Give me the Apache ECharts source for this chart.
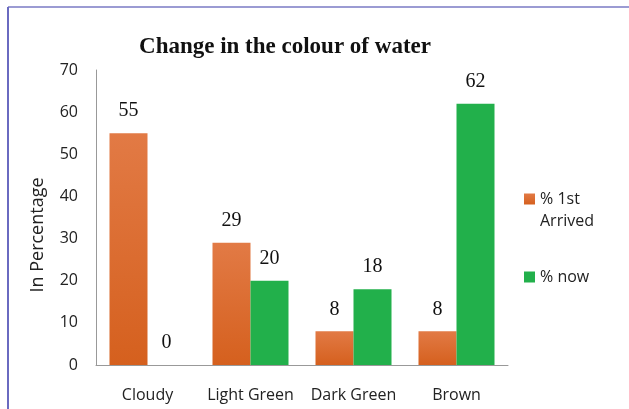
<!DOCTYPE html>
<html><head><meta charset="utf-8">
<script src="https://cdn.jsdelivr.net/npm/echarts@6/dist/echarts.min.js"></script>
<style>html,body{margin:0;padding:0;background:#fff}#c{width:629px;height:409px}</style>
</head><body><div id="c"></div>
<script>
const categories = ['Cloudy', 'Light Green', 'Dark Green', 'Brown'];
const firstArrived = [55, 29, 8, 8];
const now = [0, 20, 18, 62];
const seriesNames = ['% 1st\nArrived', '% now'];
const yTicks = [0, 10, 20, 30, 40, 50, 60, 70];

const chart = echarts.init(document.getElementById('c'));
const sans = '"Open Sans", "Liberation Sans", sans-serif';
const serif = '"Liberation Serif", "DejaVu Serif", serif';
const orange = new echarts.graphic.LinearGradient(0, 0, 0, 1, [
  {offset: 0, color: '#E27A45'}, {offset: 1, color: '#D5601E'}]);
const legendText = {fontFamily: sans, fontSize: 16, color: '#222', lineHeight: 22};
chart.setOption({
  animation: false,
  title: {
    text: 'Change in the colour of water', left: 280, top: 31, textAlign: 'center',
    textStyle: {fontFamily: serif, fontWeight: 'bold', fontSize: 23, color: '#111'}
  },
  graphic: [
    {type: 'line', shape: {x1: 8, y1: 7, x2: 629, y2: 7}, style: {stroke: '#7a7ac4', lineWidth: 1.5}},
    {type: 'line', shape: {x1: 8, y1: 7, x2: 8, y2: 409}, style: {stroke: '#6a6ac0', lineWidth: 2}},
    {type: 'text', x: 38, y: 235, rotation: Math.PI / 2,
     style: {text: 'In Percentage', fontFamily: sans, fontSize: 18, fill: '#222', align: 'center', verticalAlign: 'middle'}}
  ],
  legend: [
    {orient: 'vertical', left: 519, top: 161, itemWidth: 11, itemHeight: 11, icon: 'rect',
     formatter: n => ' \n' + n,
     textStyle: legendText, data: [seriesNames[0]]},
    {orient: 'vertical', left: 519, top: 261, itemWidth: 11, itemHeight: 11, icon: 'rect',
     textStyle: legendText, data: [seriesNames[1]]}
  ],
  grid: {left: 96, top: 70, width: 412, height: 295},
  xAxis: {
    type: 'category', data: categories,
    axisLine: {lineStyle: {color: '#999'}}, axisTick: {show: false},
    axisLabel: {fontFamily: sans, fontSize: 16, color: '#222', margin: 22, interval: 0}
  },
  yAxis: {
    type: 'value', min: 0, max: 70, interval: 10,
    axisLine: {show: true, lineStyle: {color: '#999'}}, axisTick: {show: false},
    splitLine: {show: false},
    axisLabel: {fontFamily: sans, fontSize: 16, color: '#222', margin: 18,
      formatter: v => yTicks.includes(v) ? String(v) : ''}
  },
  series: [
    {name: seriesNames[0], type: 'bar', data: firstArrived, barWidth: 38, barGap: '0%',
     itemStyle: {color: orange},
     label: {show: true, position: 'top', distance: 12, fontFamily: serif, fontSize: 20, color: '#111'}},
    {name: seriesNames[1], type: 'bar', data: now, barWidth: 38,
     itemStyle: {color: '#22B04B'},
     label: {show: true, position: 'top', distance: 12, fontFamily: serif, fontSize: 20, color: '#111'}}
  ]
});
</script></body></html>
